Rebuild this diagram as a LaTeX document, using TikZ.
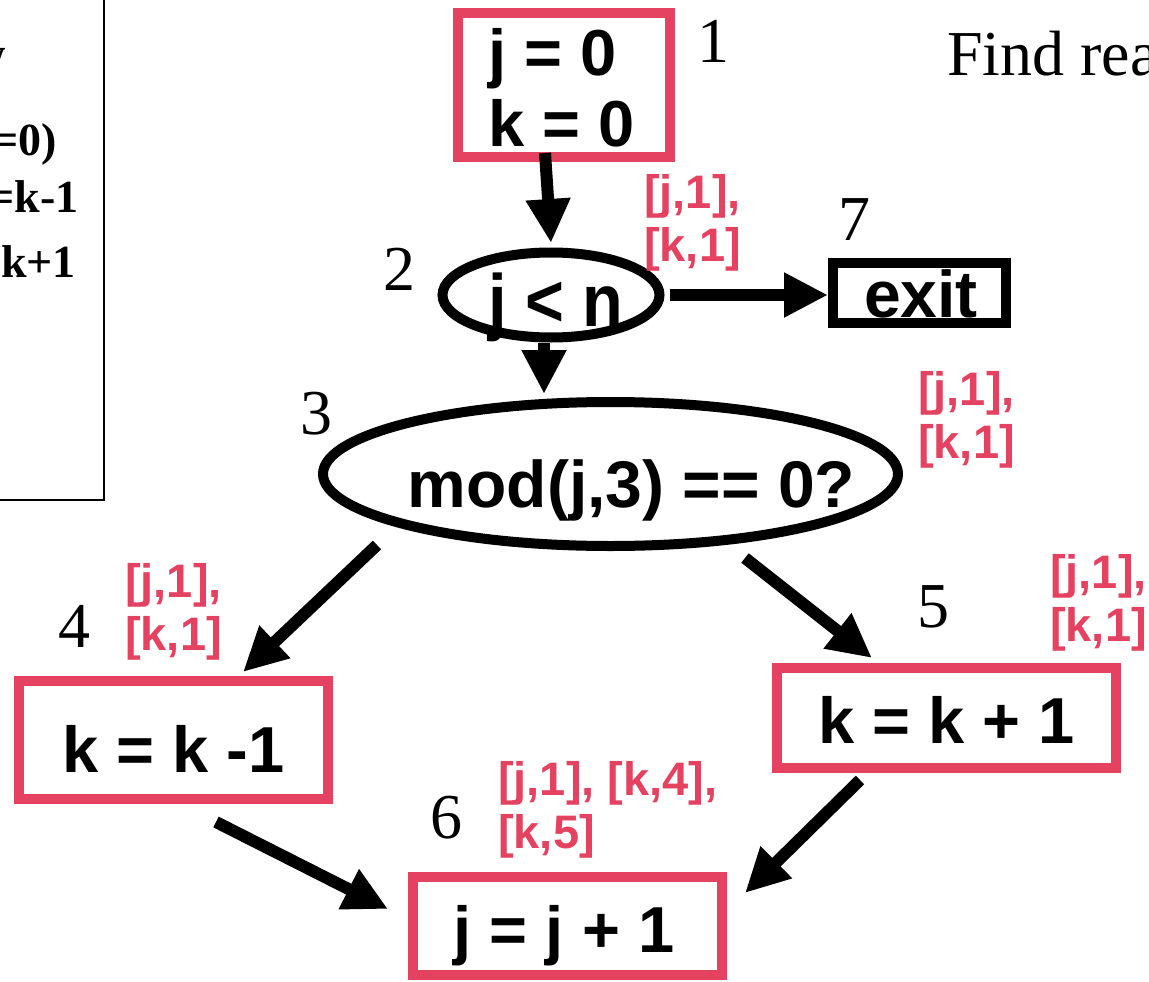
\documentclass[tikz,border=0pt]{standalone}
\usepackage{fontspec}
\usepackage{graphicx}
\setmainfont{Liberation Serif}
\newfontfamily\arial{Liberation Sans}
\usetikzlibrary{shapes.geometric,arrows.meta}
\definecolor{redc}{RGB}{228,66,96}
\newcommand{\tx}[3]{\raisebox{-#2}[0pt][0pt]{\makebox[0pt]{\hspace*{#1}#3}}}
\begin{document}
\begin{tikzpicture}[x=1pt,y=-1pt,
  rbox/.style={draw=redc, line width=10pt, rectangle, inner sep=0pt, outer sep=0pt,
    font=\arial\bfseries\fontsize{65}{72}\selectfont},
  bbox/.style={draw=black, line width=10pt, rectangle, inner sep=0pt, outer sep=0pt,
    font=\arial\bfseries\fontsize{66}{72}\selectfont},
  oval/.style={draw=black, line width=10pt, ellipse, inner sep=0pt, outer sep=0pt,
    font=\arial\bfseries\fontsize{66}{72}\selectfont},
  arr/.style={line width=12pt, -{Triangle[length=44pt,width=42pt]}},
  num/.style={font=\fontsize{64}{70}\selectfont, anchor=base west, inner sep=0pt},
  lab/.style={text=redc, font=\arial\bfseries\fontsize{47}{53}\selectfont, anchor=base west, inner sep=0pt},
  code/.style={font=\bfseries\fontsize{46}{50}\selectfont, anchor=base east, inner sep=0pt},
  title/.style={font=\fontsize{64}{70}\selectfont, anchor=base west, inner sep=0pt}]
\useasboundingbox (0,0) rectangle (1149,982);
\clip (0,0) rectangle (1149,982);

% left code box (cut off)
\draw[line width=2pt] (104,-10) -- (104,500) -- (-10,500);
\node[code] (c0) at (6,70) {w};
\node[code] (c1) at (57,155) {if (mod(j,3)==0)};
\node[code] (c2) at (79,212) {k=k-1};
\node[code] (c3) at (76,277) {k=k+1};

% title
\node[title] (ttl) at (947,75) {Find reaching definitions};

% nodes
\node[rbox, minimum width=212pt, minimum height=144pt] (n1) at (564,85)
  {\tx{-5pt}{-10pt}{\begin{tabular}[t]{@{}l@{}}j = 0\\k = 0\end{tabular}}};
\node[oval, minimum width=217pt, minimum height=85pt] (n2) at (551,295)
  {\tx{10pt}{31pt}{\fontsize{74}{74}\selectfont\scalebox{0.9}[1]{j < n}}};
\node[oval, minimum width=575pt, minimum height=144pt] (n3) at (610.5,474)
  {\tx{42pt}{33pt}{mod(j,3) == 0?}};
\node[rbox, minimum width=309pt, minimum height=118pt] (n4) at (173.5,740)
  {\tx{0pt}{32pt}{k = k -1}};
\node[rbox, minimum width=339pt, minimum height=100pt] (n5) at (946.5,718)
  {\tx{0pt}{25pt}{k = k + 1}};
\node[rbox, minimum width=309pt, minimum height=98pt] (n6) at (567.5,926)
  {\tx{-7pt}{26pt}{j = j + 1}};
\node[bbox, minimum width=173pt, minimum height=60pt] (n7) at (919.5,293)
  {\tx{3pt}{24pt}{exit}};

% numbers
\node[num] (k1) at (697,63) {1};
\node[num] (k2) at (383,290) {2};
\node[num] (k3) at (300,434) {3};
\node[num] (k4) at (58,647) {4};
\node[num] (k5) at (917,627) {5};
\node[num] (k6) at (430,838) {6};
\node[num] (k7) at (838,240) {7};

% reaching-definition labels
\node[lab] (l2) at (644,208) {\begin{tabular}[t]{@{}l@{}}[j,1],\\{}[k,1]\end{tabular}};
\node[lab] (l3) at (918,405) {\begin{tabular}[t]{@{}l@{}}[j,1],\\{}[k,1]\end{tabular}};
\node[lab] (l4) at (125,597) {\begin{tabular}[t]{@{}l@{}}[j,1],\\{}[k,1]\end{tabular}};
\node[lab] (l5) at (1050,588) {\begin{tabular}[t]{@{}l@{}}[j,1],\\{}[k,1]\end{tabular}};
\node[lab] (l6) at (498,795) {\begin{tabular}[t]{@{}l@{}}[j,1], [k,4],\\{}[k,5]\end{tabular}};

% connectors
\draw[arr] ([shift={(-19,68)}]n1.center) -- ([shift={(0,-52)}]n2.center);
\draw[arr] ([shift={(-7,48)}]n2.center) -- ([shift={(-66.5,-80)}]n3.center);
\draw[arr] ([shift={(119,0)}]n2.center) -- ([shift={(-91.5,2)}]n7.center);
\draw[arr] ([shift={(-233.5,71)}]n3.center) -- ([shift={(69.5,-68)}]n4.center);
\draw[arr] ([shift={(134.5,84)}]n3.center) -- ([shift={(-74.5,-60)}]n5.center);
\draw[arr] ([shift={(42.5,82)}]n4.center) -- ([shift={(-179.5,-17)}]n6.center);
\draw[arr] ([shift={(-86.5,62)}]n5.center) -- ([shift={(177.5,-33)}]n6.center);
\end{tikzpicture}
\end{document}
